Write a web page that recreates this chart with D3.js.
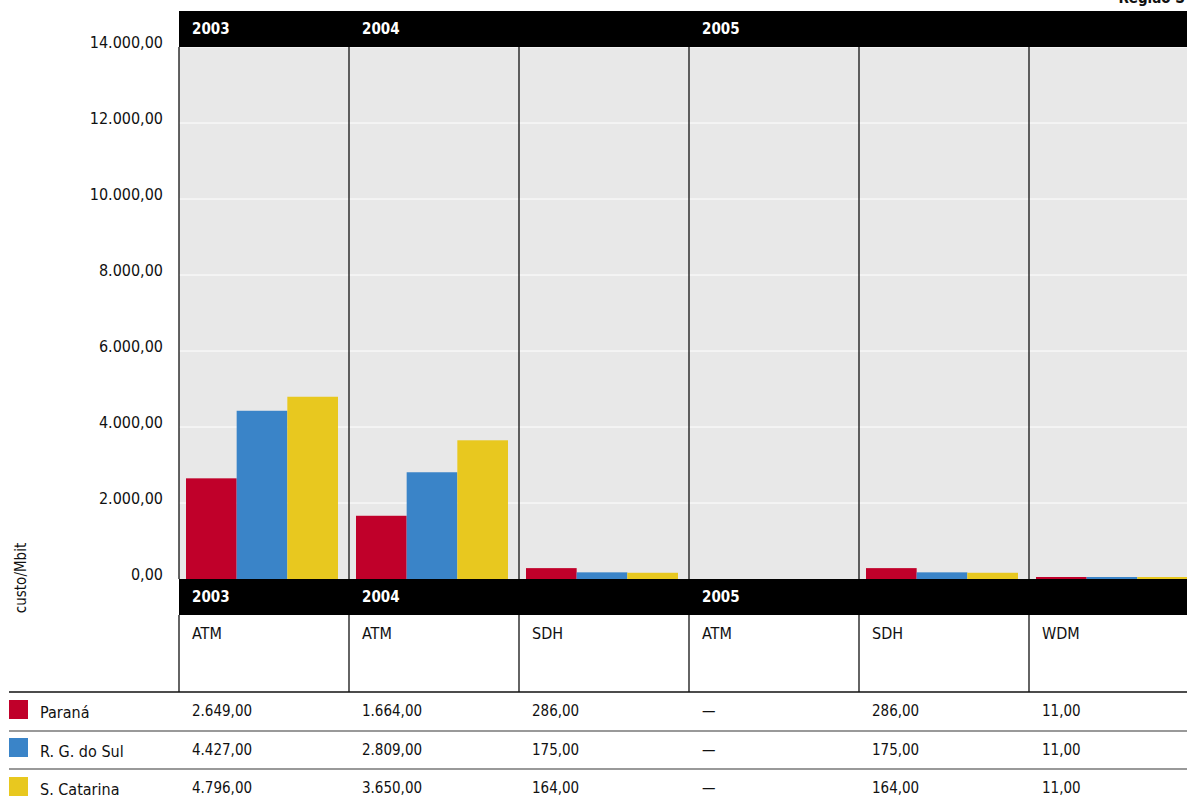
<!DOCTYPE html>
<html>
<head>
<meta charset="utf-8">
<script src="https://cdn.jsdelivr.net/npm/d3@7"></script>
<style>
  body { margin: 0; background: #fff; }
  svg text { font-family: "Liberation Sans Narrow", "DejaVu Sans Condensed", "Roboto", sans-serif; fill: #111; }
</style>
</head>
<body>
<div id="chart"></div>
<script>
// columns of the chart
var years = ["2003", "2004", "2004", "2005", "2005", "2005"];
var technologies = ["ATM", "ATM", "SDH", "ATM", "SDH", "WDM"];

// series (null = no data)
var states = ["Paraná", "R. G. do Sul", "S. Catarina"];
var parana = [2649, 1664, 286, null, 286, 11];
var rgDoSul = [4427, 2809, 175, null, 175, 11];
var saoCatarina = [4796, 3650, 164, null, 164, 11];
var colors = ["#c0002a", "#3a84c8", "#e8c81f"];

var yTicks = [0, 2000, 4000, 6000, 8000, 10000, 12000, 14000];

var series = [parana, rgDoSul, saoCatarina];

var W = 1187, H = 800;
var left = 179, colW = 170;
var plotTop = 47, plotBottom = 579;

var br = d3.formatLocale({decimal: ",", thousands: ".", grouping: [3], currency: ["R$", ""]});
var fmt = br.format(",.2f");

var svg = d3.select("#chart").append("svg")
    .attr("width", W)
    .attr("height", H);

// column scale
var x0 = d3.scaleBand()
    .domain(d3.range(years.length))
    .range([left, left + colW * years.length]);

var x1 = d3.scaleBand()
    .domain(d3.range(states.length))
    .range([7, 159]);

var y = d3.scaleLinear()
    .domain([0, 14000])
    .range([plotBottom, plotTop]);

// grey plot area
svg.append("rect")
    .attr("x", left).attr("y", plotTop)
    .attr("width", W - left).attr("height", plotBottom - plotTop)
    .attr("fill", "#e8e8e8");

// white gridlines
svg.append("g")
    .selectAll("line")
    .data(yTicks.slice(1))
    .enter().append("line")
    .attr("x1", left).attr("x2", W)
    .attr("y1", d => y(d)).attr("y2", d => y(d))
    .attr("stroke", "#fff")
    .attr("stroke-width", 1);

// y axis labels
svg.append("g")
    .selectAll("text")
    .data(yTicks)
    .enter().append("text")
    .attr("x", 163)
    .attr("y", d => y(d) + 1)
    .attr("text-anchor", "end")
    .style("font-size", "16px")
    .text(d => fmt(d));

svg.append("text")
    .attr("transform", "translate(26,578) rotate(-90)")
    .attr("text-anchor", "middle")
    .style("font-size", "15px")
    .text("custo/Mbit");

// bars
var groups = svg.append("g")
    .selectAll("g")
    .data(d3.range(years.length))
    .enter().append("g")
    .attr("transform", i => "translate(" + x0(i) + ",0)");

groups.selectAll("rect")
    .data(i => series.map((s, k) => ({k: k, v: s[i]})).filter(d => d.v != null))
    .enter().append("rect")
    .attr("x", d => x1(d.k))
    .attr("width", x1.bandwidth())
    .attr("y", d => Math.min(y(d.v), plotBottom - 2))
    .attr("height", d => Math.max(plotBottom - y(d.v), 2))
    .attr("fill", d => colors[d.k]);

// black bands with the years (top and bottom)
[{y: 11, base: 34}, {y: plotBottom, base: 602}].forEach(function(b) {
  svg.append("rect")
      .attr("x", left).attr("y", b.y)
      .attr("width", W - left).attr("height", 36)
      .attr("fill", "#000");
  svg.append("g")
      .selectAll("text")
      .data(d3.range(years.length).filter(i => i === 0 || years[i] !== years[i - 1]))
      .enter().append("text")
      .attr("x", i => x0(i) + 13)
      .attr("y", b.base)
      .style("font-size", "15px")
      .style("font-weight", "bold")
      .style("fill", "#fff")
      .text(i => years[i]);
});

// column separators
var seps = svg.append("g");
d3.range(years.length).forEach(function(i) {
  seps.append("line")
      .attr("x1", x0(i)).attr("x2", x0(i))
      .attr("y1", plotTop).attr("y2", plotBottom)
      .attr("stroke", "#111").attr("stroke-width", 1.3);
  seps.append("line")
      .attr("x1", x0(i)).attr("x2", x0(i))
      .attr("y1", 615).attr("y2", 692)
      .attr("stroke", "#111").attr("stroke-width", 1.3);
});

// technology names
svg.append("g")
    .selectAll("text")
    .data(technologies)
    .enter().append("text")
    .attr("x", (d, i) => x0(i) + 13)
    .attr("y", 639)
    .style("font-size", "16px")
    .text(d => d);

// table
var rowBase = [716, 755, 793];
var rowTop = [700, 738, 777];

svg.append("line")
    .attr("x1", 9).attr("x2", W)
    .attr("y1", 692).attr("y2", 692)
    .attr("stroke", "#111").attr("stroke-width", 1.5);

svg.append("g")
    .selectAll("line")
    .data([731, 769])
    .enter().append("line")
    .attr("x1", 9).attr("x2", W)
    .attr("y1", d => d).attr("y2", d => d)
    .attr("stroke", "#777").attr("stroke-width", 1.5);

var rows = svg.append("g")
    .selectAll("g")
    .data(states)
    .enter().append("g");

rows.append("rect")
    .attr("x", 9)
    .attr("y", (d, k) => rowTop[k])
    .attr("width", 19).attr("height", 19)
    .attr("fill", (d, k) => colors[k]);

rows.append("text")
    .attr("x", 40)
    .attr("y", (d, k) => rowBase[k] + 2)
    .style("font-size", "16px")
    .text(d => d);

rows.each(function(d, k) {
  d3.select(this).selectAll("text.val")
      .data(series[k])
      .enter().append("text")
      .attr("class", "val")
      .attr("x", (v, i) => x0(i) + 13)
      .attr("y", rowBase[k])
      .style("font-size", "15px")
      .text(v => v == null ? "\u2014" : fmt(v));
});

// region label clipped at the top right
svg.append("text")
    .attr("x", 1185)
    .attr("y", 3)
    .attr("text-anchor", "end")
    .style("font-size", "15px")
    .style("font-weight", "bold")
    .text("Região S");
</script>
</body>
</html>
